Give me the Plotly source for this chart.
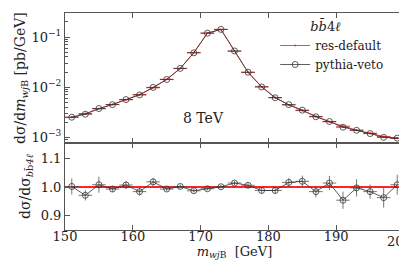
import plotly.graph_objects as go
from plotly.subplots import make_subplots

# bin centres (GeV), 2 GeV bins
mass = [151, 153, 155, 157, 159, 161, 163, 165, 167, 169, 171, 173, 175,
        177, 179, 181, 183, 185, 187, 189, 191, 193, 195, 197, 199]
half_bin = [1.0] * len(mass)

# res-default distribution [pb/GeV]
res_default = [0.0025, 0.00296, 0.0037, 0.0045, 0.0056, 0.0071, 0.0097, 0.0143,
               0.0236, 0.049, 0.12, 0.142, 0.052, 0.0197, 0.0102, 0.0062,
               0.0044, 0.0034, 0.0026, 0.00203, 0.00166, 0.00138, 0.0012,
               0.00103, 0.00095]

# pythia-veto / res-default ratio
ratio = [1.002, 0.971, 1.008, 0.993, 1.007, 0.984, 1.018, 0.993, 1.002, 0.987,
         0.994, 1.001, 1.014, 1.006, 0.988, 0.988, 1.016, 1.020, 0.984, 1.014,
         0.954, 0.997, 0.984, 0.963, 1.008]
ratio_err = [0.028, 0.018, 0.028, 0.01, 0.014, 0.014, 0.014, 0.008, 0.007, 0.007,
             0.006, 0.006, 0.007, 0.008, 0.01, 0.012, 0.015, 0.02, 0.02, 0.025,
             0.03, 0.03, 0.025, 0.035, 0.035]
ones = [1.0] * len(mass)

# x tick values/labels (last label drawn separately so it is not clipped)
x_ticks = [150, 160, 170, 180, 190, 200]
x_ticktext = ["150", "160", "170", "180", "190", ""]
x_last_label = "200"

# log-axis minor tick positions
minor_ticks = [m * 10.0 ** e for e in (-4, -3, -2, -1) for m in range(2, 10)]

pythia_veto = [r * v for r, v in zip(res_default, ratio)]
pythia_err = [e * v for e, v in zip(ratio_err, res_default)]

RED = "rgba(255,30,30,0.85)"
BLK = "#333333"
FONT = "DejaVu Serif"
TXT = "#222222"

fig = make_subplots(rows=2, cols=1, shared_xaxes=True, vertical_spacing=0,
                    row_heights=[0.6, 0.4])

fig.add_trace(go.Scatter(
    x=mass, y=res_default, name="res-default", mode="lines+markers",
    line=dict(color=RED, width=1), marker=dict(color=RED, size=2),
    error_x=dict(type="data", array=half_bin, color=RED, thickness=1, width=0),
), row=1, col=1)
fig.add_trace(go.Scatter(
    x=mass, y=pythia_veto, name="pythia-veto", mode="lines+markers",
    line=dict(color=BLK, width=0.8),
    marker=dict(symbol="circle-open", size=6, color=BLK, line=dict(width=0.8)),
    error_x=dict(type="data", array=half_bin, color=BLK, thickness=0.8, width=0),
    error_y=dict(type="data", array=pythia_err, color=BLK, thickness=0.8, width=0),
), row=1, col=1)

fig.add_trace(go.Scatter(
    x=mass, y=ones, showlegend=False, mode="lines",
    line=dict(color="rgb(255,20,20)", width=1.5),
    error_x=dict(type="data", array=half_bin, color="rgb(255,20,20)", thickness=1.5, width=0),
), row=2, col=1)
fig.add_trace(go.Scatter(
    x=mass, y=ratio, showlegend=False, mode="lines+markers",
    line=dict(color=BLK, width=0.8),
    marker=dict(symbol="circle-open", size=6, color=BLK, line=dict(width=0.8)),
    error_x=dict(type="data", array=half_bin, color="#555555", thickness=0.8, width=0),
    error_y=dict(type="data", array=ratio_err, color="#555555", thickness=0.8, width=0),
), row=2, col=1)

axis_common = dict(showline=True, linecolor="#555555", linewidth=1, mirror="ticks",
                   ticks="inside", tickcolor="#555555", showgrid=False, zeroline=False,
                   tickfont=dict(family=FONT, size=13, color=TXT))

fig.update_xaxes(range=[150, 200], tickvals=x_ticks, ticktext=x_ticktext,
                 ticklen=5, **axis_common)
fig.update_xaxes(showticklabels=False, row=1, col=1)
fig.update_xaxes(ticklabelstandoff=-6,
                 title=dict(text="<i>m</i><sub><i>wj</i>B</sub>  [GeV]",
                            font=dict(family=FONT, size=13, color=TXT),
                            standoff=0), row=2, col=1)

fig.update_yaxes(type="log", range=[-3.12, -0.52],
                 tickvals=[1e-3, 1e-2, 1e-1],
                 ticktext=["10<sup>−3</sup>", "10<sup>−2</sup>", "10<sup>−1</sup>"],
                 ticklen=5,
                 minor=dict(ticks="inside", ticklen=2.5, tickcolor="#555555",
                            tickvals=minor_ticks, showgrid=False),
                 title=dict(text="dσ/d<i>m</i><sub><i>wj</i>B</sub> [pb/GeV]",
                            font=dict(family=FONT, size=14, color=TXT),
                            standoff=2),
                 row=1, col=1, **axis_common)
fig.update_yaxes(range=[0.85, 1.153], tickvals=[0.9, 1.0, 1.1],
                 ticktext=["0.9", "1.0", "1.1"], ticklen=5,
                 title=dict(text="dσ/dσ<sub><i>b</i>b\u0304<i>4ℓ</i></sub>",
                            font=dict(family=FONT, size=14, color=TXT),
                            standoff=6),
                 row=2, col=1, **axis_common)

# last x tick label, right-aligned so it stays inside the page
fig.add_annotation(text=x_last_label, x=x_ticks[-1], xref="x2", y=0, yref="paper",
                   xanchor="right", yanchor="top", xshift=10, yshift=-2,
                   showarrow=False, font=dict(family=FONT, size=13, color=TXT))

fig.add_annotation(text="8 TeV", x=0.41, y=0.515, xref="paper", yref="paper",
                   xanchor="center", yanchor="middle", showarrow=False,
                   font=dict(family=FONT, size=14, color=TXT))

fig.update_layout(
    width=407, height=263,
    margin=dict(l=57, r=11, t=5, b=41),
    paper_bgcolor="white", plot_bgcolor="white",
    legend=dict(x=0.62, y=0.995, xanchor="left", yanchor="top",
                bgcolor="rgba(0,0,0,0)",
                title=dict(text="        <i>b</i><i>b\u0304</i>4<i>ℓ</i>",
                           font=dict(family=FONT, size=13, color=TXT)),
                font=dict(family=FONT, size=12, color=TXT),
                itemwidth=30, tracegroupgap=0),
)

fig.write_html("out.html")
